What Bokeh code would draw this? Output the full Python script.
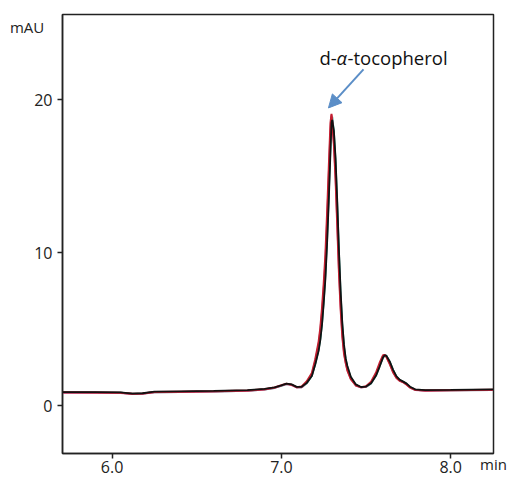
from bokeh.plotting import figure
from bokeh.models import ColumnDataSource, FixedTicker, Label, Arrow, NormalHead, Range1d
from bokeh.embed import file_html
from bokeh.resources import INLINE

# retention time (min)
time_min = [5.70, 5.90, 6.05, 6.12, 6.18, 6.25, 6.40, 6.60, 6.80, 6.90,
            6.96, 7.00, 7.03, 7.06, 7.09, 7.12, 7.15, 7.18, 7.20, 7.22,
            7.23, 7.24, 7.25, 7.26, 7.27, 7.28, 7.29, 7.296, 7.30, 7.31,
            7.32, 7.33, 7.34, 7.35, 7.36, 7.37, 7.38, 7.39, 7.41, 7.44,
            7.47, 7.50, 7.53, 7.56, 7.58, 7.60, 7.61, 7.62, 7.64, 7.66,
            7.68, 7.70, 7.72, 7.74, 7.76, 7.79, 7.85, 8.00, 8.25]

# absorbance (mAU), one list per overlaid run
signal_teal = [0.87, 0.86, 0.85, 0.78, 0.80, 0.89, 0.91, 0.94, 0.99, 1.07,
               1.17, 1.30, 1.42, 1.38, 1.22, 1.22, 1.48, 1.97, 2.75, 3.7,
               4.4, 5.4, 6.9, 8.6, 11.0, 13.9, 17.1, 18.8, 18.9, 17.9,
               15.9, 13.0, 9.9, 7.2, 5.2, 3.8, 3.0, 2.5, 1.85, 1.36,
               1.21, 1.24, 1.47, 2.0, 2.6, 3.15, 3.30, 3.28, 2.88, 2.33,
               1.90, 1.68, 1.57, 1.43, 1.22, 1.05, 1.00, 1.02, 1.04]
signal_pink = [0.86, 0.85, 0.84, 0.77, 0.79, 0.88, 0.90, 0.93, 0.98, 1.06,
               1.18, 1.32, 1.42, 1.36, 1.20, 1.22, 1.52, 2.05, 2.9, 4.0,
               4.9, 6.1, 7.6, 9.4, 12.0, 15.0, 18.0, 19.0, 18.6, 17.3,
               15.1, 12.1, 9.0, 6.6, 4.7, 3.5, 2.85, 2.35, 1.78, 1.33,
               1.20, 1.25, 1.52, 2.1, 2.7, 3.25, 3.32, 3.22, 2.78, 2.22,
               1.84, 1.64, 1.55, 1.40, 1.20, 1.04, 0.99, 1.01, 1.03]
signal_red = [0.88, 0.87, 0.86, 0.78, 0.80, 0.90, 0.92, 0.95, 1.00, 1.08,
              1.20, 1.35, 1.45, 1.38, 1.22, 1.27, 1.60, 2.15, 3.05, 4.2,
              5.1, 6.4, 8.0, 9.9, 12.6, 15.6, 18.5, 19.1, 18.6, 17.1,
              14.8, 11.8, 8.7, 6.3, 4.5, 3.4, 2.8, 2.3, 1.75, 1.33,
              1.22, 1.28, 1.58, 2.2, 2.8, 3.3, 3.33, 3.2, 2.72, 2.18,
              1.82, 1.63, 1.54, 1.38, 1.19, 1.05, 1.00, 1.02, 1.05]
signal_black = [0.90, 0.89, 0.88, 0.80, 0.82, 0.92, 0.94, 0.97, 1.02, 1.10,
                1.20, 1.33, 1.45, 1.40, 1.24, 1.24, 1.50, 1.95, 2.7, 3.6,
                4.3, 5.3, 6.7, 8.3, 10.6, 13.4, 16.6, 18.5, 18.7, 18.0,
                16.2, 13.4, 10.2, 7.5, 5.4, 4.0, 3.1, 2.6, 1.9, 1.40,
                1.23, 1.26, 1.48, 2.0, 2.55, 3.15, 3.30, 3.28, 2.9, 2.35,
                1.92, 1.70, 1.58, 1.45, 1.25, 1.08, 1.03, 1.04, 1.07]

x_ticks = [6.0, 7.0, 8.0]
x_tick_labels = ["6.0", "7.0", "8.0"]
y_ticks = [0, 10, 20]
y_tick_labels = ["0", "10", "20"]
x_unit = "min"
y_unit = "mAU"

peak_name_parts = ["d-", "\u03b1", "-tocopherol"]
peak_time = 7.278
peak_height = 19.48

FONT = "Open Sans"

p = figure(width=510, height=478, output_backend="svg", toolbar_location=None,
           x_range=Range1d(5.707, 8.253), y_range=Range1d(-3.12, 25.59),
           min_border_left=62, min_border_right=17, min_border_top=14,
           min_border_bottom=25)
p.background_fill_color = "white"
p.border_fill_color = "white"
p.outline_line_color = "#222222"
p.outline_line_width = 1.5
p.xgrid.visible = False
p.ygrid.visible = False

traces = [(signal_teal, "#1f9e8c", 2.0),
          (signal_pink, "#d9508c", 2.0),
          (signal_red, "#c21f2f", 2.0),
          (signal_black, "#111111", 1.8)]
for vals, col, lw in traces:
    src = ColumnDataSource(dict(t=time_min, v=vals))
    p.line("t", "v", source=src, line_color=col, line_width=lw)

for ax, ticks, labels in ((p.xaxis[0], x_ticks, x_tick_labels),
                          (p.yaxis[0], y_ticks, y_tick_labels)):
    ax.ticker = FixedTicker(ticks=ticks)
    ax.major_label_overrides = {t: l for t, l in zip(ticks, labels)}
    ax.minor_tick_line_color = None
    ax.major_tick_in = 0
    ax.major_tick_out = 5
    ax.major_tick_line_color = "#222222"
    ax.major_tick_line_width = 1.5
    ax.axis_line_color = "#222222"
    ax.axis_line_width = 1.5
    ax.major_label_text_font = FONT
    ax.major_label_text_font_size = "16px"
    ax.major_label_text_color = "#222222"
    ax.axis_label_text_font = FONT
    ax.axis_label_text_font_size = "15px"
    ax.axis_label_text_font_style = "normal"
    ax.axis_label_text_color = "#222222"
p.xaxis.major_label_standoff = 2
p.yaxis.major_label_standoff = 5

# unit labels: y unit at the top end of the y axis, x unit at the right end
p.yaxis.axis_label = "\n" + y_unit
p.yaxis.axis_label_orientation = "horizontal"
p.yaxis.axis_label_align = "end"
p.yaxis.axis_label_standoff = -13
p.xaxis.axis_label = x_unit
p.xaxis.axis_label_align = "end"
p.xaxis.axis_label_text_align = "center"
p.xaxis.axis_label_standoff = -22

name_x = [7.2249, 7.3254, 7.3905]
name_style = ["normal", "italic", "normal"]
for part, xx, st in zip(peak_name_parts, name_x, name_style):
    p.add_layout(Label(x=xx, y=22.81, text=part, text_align="left",
                       text_baseline="alphabetic", text_font=FONT,
                       text_font_size="18.5px", text_font_style=st,
                       text_color="#111111"))

p.add_layout(Arrow(x_start=7.485, y_start=22.0, x_end=peak_time, y_end=peak_height,
                   line_color="#5b8ec7", line_width=2,
                   end=NormalHead(size=13, fill_color="#5b8ec7",
                                  line_color="#5b8ec7")))

open("out.html", "w").write(file_html(p, INLINE))
